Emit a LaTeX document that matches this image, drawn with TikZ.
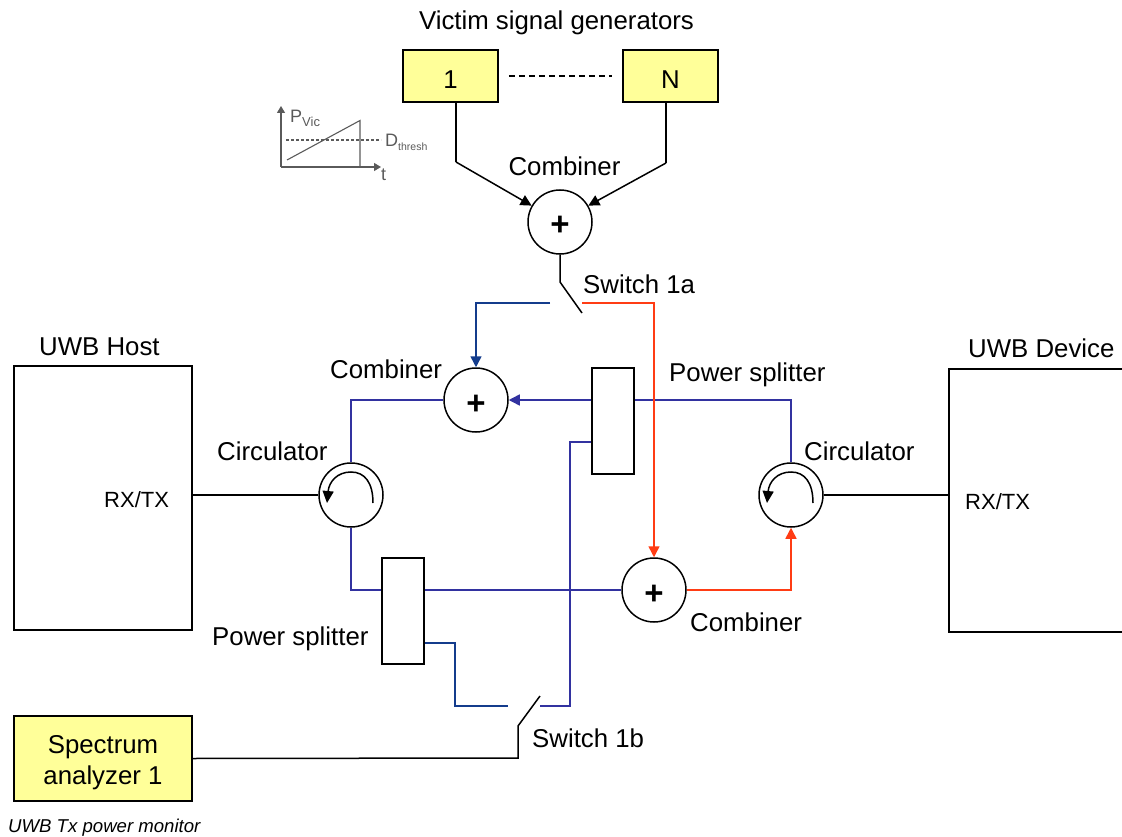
\documentclass[tikz,border=0pt]{standalone}
\usepackage{fontspec}
\setmainfont{Liberation Sans}
\usetikzlibrary{arrows.meta,calc}
\definecolor{boxyellow}{RGB}{255,255,153}
\definecolor{navyline}{RGB}{20,60,140}
\definecolor{purpline}{RGB}{50,50,160}
\definecolor{redline}{RGB}{255,60,20}
\definecolor{chartgray}{RGB}{90,90,90}
\tikzset{
  lab/.style={inner sep=0pt,font=\fontsize{25.8}{28}\selectfont,text=black},
  smalllab/.style={inner sep=0pt,font=\fontsize{22}{24}\selectfont},
  ybox/.style={draw=black,line width=1.5pt,fill=boxyellow,inner sep=0pt,align=center,font=\fontsize{25.8}{31}\selectfont},
  wbox/.style={draw=black,line width=1.5pt,fill=white,inner sep=0pt},
  rnd/.style={circle,draw=black,line width=1.5pt,fill=white,minimum size=64pt,inner sep=0pt},
  wire/.style={line width=1.5pt},
  tip/.style={-{Triangle[length=11pt,width=11pt]}},
  blackw/.style={wire,draw=black},
  navyw/.style={wire,draw=navyline},
  purpw/.style={wire,draw=purpline},
  redw/.style={wire,draw=redline},
  chart/.style={line width=1.1pt,draw=chartgray},
  chartlab/.style={inner sep=0pt,text=chartgray,font=\fontsize{18}{20}\selectfont},
}
\newcommand{\plusmark}{\raisebox{-14pt}[0pt][0pt]{\fontsize{33}{33}\selectfont\bfseries +}}
\newcommand{\boxnum}[1]{\raisebox{-5pt}[0pt][0pt]{\raisebox{-8pt}[0pt][0pt]{#1}}}
\newcommand{\chartsub}[2]{\raisebox{-3.5pt}{\fontsize{#1}{#1}\selectfont #2}}
\newcommand{\circarrow}[1]{%
  \draw[line width=1.5pt,-{Triangle[length=12pt,width=11pt]}] ($(#1)+(22,8)$) .. controls ($(#1)+(22,-12)$) and ($(#1)+(14,-23)$) .. ($(#1)+(0,-23)$) .. controls ($(#1)+(-14,-23)$) and ($(#1)+(-22,-13)$) .. ($(#1)+(-24,8)$);}
\begin{document}
\begin{tikzpicture}[x=1pt,y=-1pt]
\useasboundingbox (0,0) rectangle (1122,837);
% boxes
\node[ybox,minimum width=95pt,minimum height=52pt] (g1) at (450.5,76) {\boxnum{1}};
\node[ybox,minimum width=95pt,minimum height=52pt] (gN) at (670.5,76) {\boxnum{N}};
\node[ybox,minimum width=178pt,minimum height=85pt] (sa) at (103,758.5) {};
\node[inner sep=0pt,align=center,font=\fontsize{25.8}{31}\selectfont] (satext) at (103,762.5) {Spectrum\\analyzer 1};
\node[wbox,minimum width=178pt,minimum height=264pt] (host) at (103,498) {};
\coordinate (devTL) at (949,369);
\coordinate (devBL) at (949,632);
\coordinate (devTR) at (1122,369);
\coordinate (devBR) at (1122,632);
\node[rnd] (ctop) at (560,222) {\plusmark};
\node[rnd] (cmid) at (476,400) {\plusmark};
\node[rnd] (cbot) at (654,590) {\plusmark};
\node[rnd] (circL) at (351,495) {};
\node[rnd] (circR) at (791,495) {};
\coordinate (g1a) at (456,102);
\coordinate (g1b) at (456,162);
\coordinate (gNa) at (666,102);
\coordinate (gNb) at (666,163);
\coordinate (sw1aT) at (560,282);
\coordinate (sw1aE) at (582,313);
\coordinate (sw1aL) at (550,303);
\coordinate (sw1aR) at (582,303);
\coordinate (sw1bB) at (518,726);
\coordinate (sw1bE) at (540,696);
\coordinate (sw1bL) at (508,706);
\coordinate (sw1bR) at (540,706);
\coordinate (sw1bC) at (518,758);
% wires under splitters
\draw[purpw] (cmid.west) -| (circL.north);
\draw[purpw] (circL.south) |- (cbot.west);
\draw[purpw] (circR.north) |- (620,400);
\draw[redw,tip] (sw1aR) -| (cbot.north);
% power splitters
\node[wbox,minimum width=42pt,minimum height=106pt] (psU) at (613,421) {};
\node[wbox,minimum width=42pt,minimum height=106pt] (psL) at (403,611) {};
% device box (open on the right)
\draw[line width=1.5pt] (devTR) -- (devTL) -- (devBL) -- (devBR);
% connectors
\draw[navyw,tip] (sw1aL) -| (cmid.north);
\draw[purpw,tip] (psU.west|-cmid) -- (cmid.east);
\draw[redw,tip] (cbot.east) -| (circR.south);
\draw[black,wire] (g1a) -- (g1b);
\draw[black,wire,tip] (g1b) -- (ctop.150);
\draw[black,wire] (gNa) -- (gNb);
\draw[black,wire,tip] (gNb) -- (ctop.30);
\draw[black,line width=1.1pt,dash pattern=on 6pt off 4pt] (g1.east)++(10,0) coordinate (dl) (gN.west)++(-10,0) coordinate (dr) (dl) -- (dr);
\draw[black,wire] (ctop.south) -- (sw1aT) -- (sw1aE);
\draw[black,wire] (host.east|-circL) -- (circL.west);
\draw[black,wire] (circR.east) -- (devTL|-circR);
\draw[navyw] (psL.east|-0,643) -- (455,643) |- (sw1bL);
\draw[purpw] (sw1bR) -- (570,706) |- (psU.west|-0,442);
\draw[black,wire] (sa.east) -- (sw1bC) -- (sw1bB) -- (sw1bE);
\circarrow{circL}
\circarrow{circR}
% labels
\node[lab,anchor=base] (t1) at (556.5,30) {Victim signal generators};
\node[lab,anchor=base] (t2) at (564.5,176) {Combiner};
\node[lab,anchor=base west] (t3) at (583,294) {Switch 1a};
\node[lab,anchor=base west] (t4) at (39,355) {UWB Host};
\node[lab,anchor=base west] (t5) at (968,357) {UWB Device};
\node[lab,anchor=base west] (t6) at (330,378) {Combiner};
\node[lab,anchor=base west] (t7) at (669,381) {Power splitter};
\node[lab,anchor=base west] (t8) at (217,460) {Circulator};
\node[lab,anchor=base west] (t9) at (804,460) {Circulator};
\node[smalllab,anchor=base west] (t10) at (104,507) {RX/TX};
\node[smalllab,anchor=base west] (t11) at (965,509) {RX/TX};
\node[lab,anchor=base west] (t12) at (690,631) {Combiner};
\node[lab,anchor=base west] (t13) at (212,645) {Power splitter};
\node[lab,anchor=base west] (t14) at (532,747) {Switch 1b};
\node[inner sep=0pt,anchor=base west,font=\fontsize{18.6}{22}\selectfont\itshape] (t15) at (8,832) {UWB Tx power monitor};
% small chart
\coordinate (o) at (281,167);
\coordinate (ytop) at (281,106);
\coordinate (xend) at (381,167);
\draw[chart,-{Triangle[length=7pt,width=8pt]}] (o) -- (ytop);
\draw[chart,-{Triangle[length=7pt,width=8pt]}] (o) -- (xend);
\coordinate (r0) at (287,160);
\coordinate (r1) at (360,120.5);
\draw[chart] (r0) -- (r1) -- (r1|-o);
\coordinate (d0) at (286,140.5);
\coordinate (d1) at (381,140.5);
\draw[chart,line width=2pt,dash pattern=on 3pt off 2pt] (d0) -- (d1);
\node[chartlab,anchor=base west] (pv) at (290,123) {P\chartsub{13}{Vic}};
\node[chartlab,anchor=base west] (dt) at (385,147) {D\chartsub{10.5}{thresh}};
\node[chartlab,anchor=base west] (tt) at (381,181) {t};
\end{tikzpicture}
\end{document}
